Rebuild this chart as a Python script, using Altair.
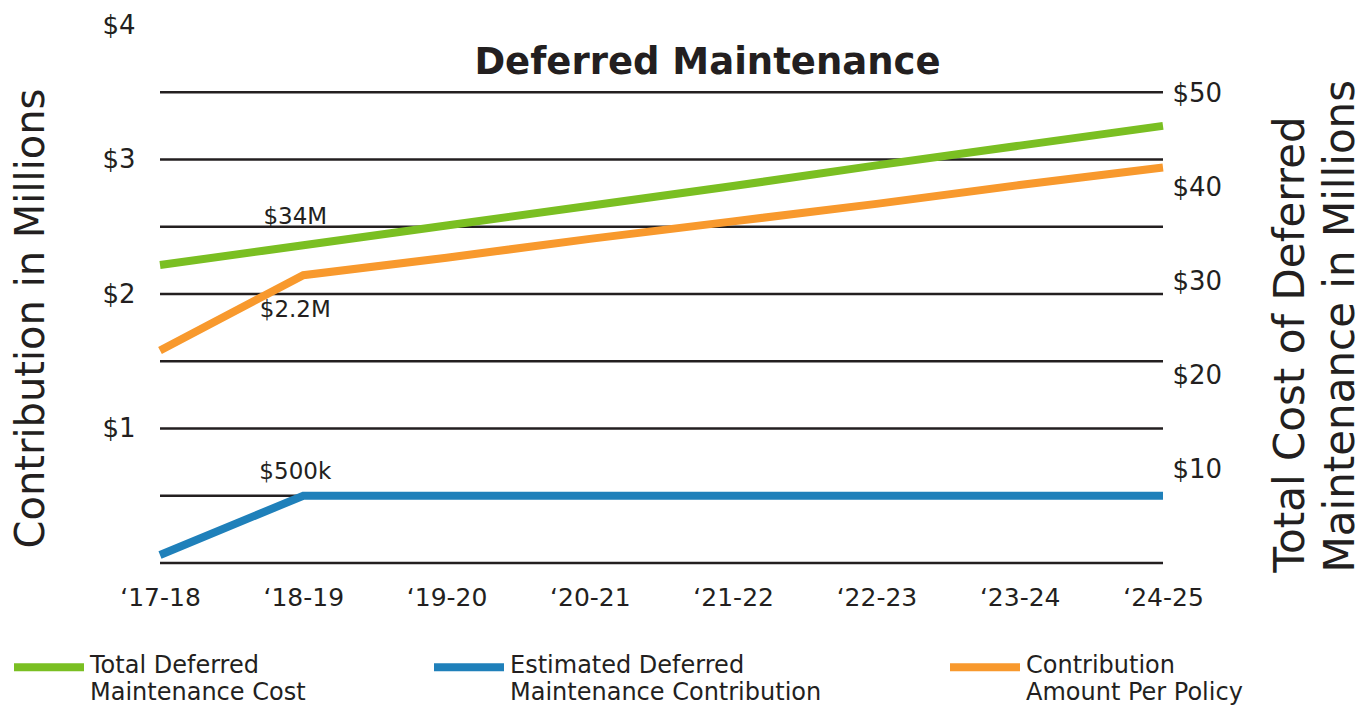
import altair as alt
import pandas as pd

# ---------------- data ----------------
years = ["\u201817-18", "\u201818-19", "\u201819-20", "\u201820-21",
         "\u201821-22", "\u201822-23", "\u201823-24", "\u201824-25"]

total_cost = [31.7, 33.8, 35.9, 38.0, 40.1, 42.3, 44.4, 46.5]      # right axis, $M
est_contrib = [0.06, 0.5, 0.5, 0.5, 0.5, 0.5, 0.5, 0.5]            # left axis, $M
policy_amt = [1.58, 2.14, 2.27, 2.41, 2.54, 2.67, 2.81, 2.94]      # left axis, $M

series_names = ["Total Deferred Maintenance Cost",
                "Estimated Deferred Maintenance Contribution",
                "Contribution Amount Per Policy"]
legend_line1 = ["Total Deferred", "Estimated Deferred", "Contribution"]
legend_line2 = ["Maintenance Cost", "Maintenance Contribution", "Amount Per Policy"]
series_colors = ["#7abf22", "#1f80ba", "#f8992d"]

grid_values = [0, 0.5, 1, 1.5, 2, 2.5, 3, 3.5]
left_ticks = [1, 2, 3, 4]
right_ticks = [10, 20, 30, 40, 50]

ann_text = ["$34M", "$2.2M", "$500k"]
ann_year = [years[1], years[1], years[1]]
ann_value = [2.57, 1.88, 0.68]

chart_title = "Deferred Maintenance"
left_title = "Contribution in Millions"
right_title = ["Total Cost of Deferred", "Maintenance in Millions"]

# ---------------- tables ----------------
left_df = pd.DataFrame({
    "year": years * 2,
    "value": est_contrib + policy_amt,
    "series": [series_names[1]] * len(years) + [series_names[2]] * len(years),
})
right_df = pd.DataFrame({"year": years, "value": total_cost,
                         "series": [series_names[0]] * len(years)})
grid_df = pd.DataFrame({"g": grid_values})
ann_df = pd.DataFrame({"year": ann_year, "value": ann_value, "text": ann_text})

TXT = "#231f20"
FONT = "DejaVu Sans"
W, H = 1003, 538

label_expr = " : ".join(
    f"datum.label == '{n}' ? ['{a}', '{b}']" for n, a, b in zip(series_names, legend_line1, legend_line2)
) + " : datum.label"

x_enc = alt.X("year:N", sort=years, scale=alt.Scale(type="point", padding=0),
              axis=alt.Axis(title=None, labelAngle=0, labelFontSize=25, labelColor=TXT,
                            labelPadding=22, domain=False, ticks=False, grid=False,
                            labelFont=FONT))

color_enc = alt.Color("series:N", scale=alt.Scale(domain=series_names, range=series_colors),
                      legend=alt.Legend(title=None, orient="none", legendX=-150, legendY=590,
                                        direction="horizontal", columns=3, columnPadding=112,
                                        symbolType="M-1,0.38L1,0.38", symbolSize=4900,
                                        symbolStrokeWidth=8,
                                        labelFontSize=24, labelColor=TXT, labelFont=FONT,
                                        labelLimit=600, labelOffset=2, labelExpr=label_expr,
                                        labelBaseline="top", padding=0))

left_scale = alt.Scale(domain=[0, 4], nice=False, zero=True)
left_axis = alt.Axis(values=left_ticks, format="$d", title=left_title,
                     titleFontSize=40, titleFontWeight="normal", titleColor=TXT,
                     titleFont=FONT, titleAngle=270, titleAlign="center",
                     titleBaseline="middle", titleX=-129, titleY=293,
                     labelFontSize=26, labelColor=TXT, labelFont=FONT,
                     labelPadding=25, domain=False, ticks=False, grid=False)

grid = alt.Chart(grid_df).mark_rule(color=TXT, strokeWidth=2.5).encode(
    y=alt.Y("g:Q", scale=left_scale, axis=left_axis)
)

left_lines = alt.Chart(left_df).mark_line(strokeWidth=8, strokeCap="butt").encode(
    x=x_enc,
    y=alt.Y("value:Q", scale=left_scale, axis=left_axis),
    color=color_enc,
    detail="series:N",
)

ann = alt.Chart(ann_df).mark_text(fontSize=23, color=TXT, font=FONT, dx=-8,
                                  baseline="middle").encode(
    x=alt.X("year:N", sort=years, scale=alt.Scale(type="point", padding=0)),
    y=alt.Y("value:Q", scale=left_scale, axis=left_axis),
    text="text:N",
)

title_txt = alt.Chart(pd.DataFrame({"t": [chart_title]})).mark_text(
    fontSize=37, fontWeight="bold", color=TXT, font=FONT, baseline="middle", align="center"
).encode(x=alt.value(W / 2 + 46), y=alt.value(38), text="t:N")

left_layer = alt.layer(grid, left_lines, ann, title_txt)

right_line = alt.Chart(right_df).mark_line(strokeWidth=8, strokeCap="butt").encode(
    x=x_enc,
    y=alt.Y("value:Q", scale=alt.Scale(domain=[0, 50 * H / 470], nice=False),
            axis=alt.Axis(orient="right", values=right_ticks, format="$d", title=right_title,
                          titleFontSize=42, titleFontWeight="normal", titleColor=TXT,
                          titleFont=FONT, titleAngle=270, titleAlign="left",
                          titleBaseline="middle", titleX=127, titleY=547, titleLineHeight=50,
                          labelFontSize=26, labelColor=TXT, labelFont=FONT,
                          labelPadding=9, domain=False, ticks=False, grid=False)),
    color=color_enc,
)

chart = (
    alt.layer(left_layer, right_line)
    .resolve_scale(y="independent")
    .properties(
        width=W, height=H,
        padding={"left": 152, "top": 17, "right": 201, "bottom": 143},
        autosize=alt.AutoSizeParams(type="none"),
        background="white",
    )
    .configure(font=FONT, style={"guide-label": {"lineHeight": 27}})
    .configure_view(strokeWidth=0, stroke="transparent")
)

chart.save("out.html", embed_options={"renderer": "svg", "actions": False})
